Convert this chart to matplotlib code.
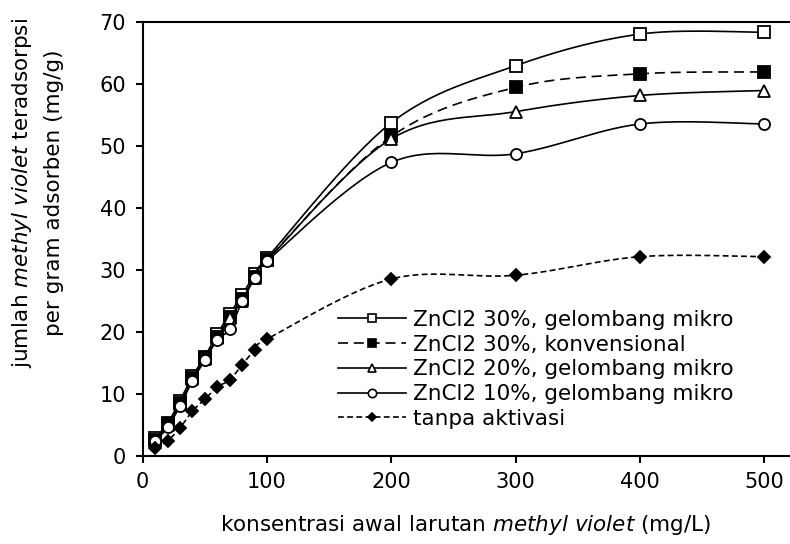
import numpy as np
import matplotlib.pyplot as plt

plt.rcParams['font.family'] = 'DejaVu Sans'
plt.rcParams['font.size'] = 15

# data
conc = [10, 20, 30, 40, 50, 60, 70, 80, 90, 100, 200, 300, 400, 500]
zn30_mw = [2.9, 5.2, 8.9, 12.8, 16.0, 19.6, 22.9, 25.9, 29.3, 31.9, 53.7, 62.9, 68.0, 68.3]
zn30_conv = [2.6, 5.1, 8.5, 12.5, 15.7, 19.1, 22.4, 25.2, 28.9, 31.6, 51.5, 59.4, 61.6, 61.9]
zn20_mw = [2.5, 4.9, 8.3, 12.3, 15.6, 19.0, 22.2, 25.0, 28.7, 31.5, 51.1, 55.5, 58.1, 58.9]
zn10_mw = [2.3, 4.6, 8.0, 12.1, 15.4, 18.7, 20.4, 24.9, 28.6, 31.4, 47.3, 48.7, 53.5, 53.5]
no_act = [1.2, 2.4, 4.5, 7.2, 9.1, 11.1, 12.2, 14.7, 17.0, 18.8, 28.5, 29.1, 32.1, 32.1]

labels = ['ZnCl2 30%, gelombang mikro', 'ZnCl2 30%, konvensional',
          'ZnCl2 20%, gelombang mikro', 'ZnCl2 10%, gelombang mikro',
          'tanpa aktivasi']


def smooth(x, y, sx=1.243, sy=6.2, n=30):
    # excel-like smoothed line (bezier through the points)
    P = np.column_stack([np.asarray(x, float) * sx, np.asarray(y, float) * sy])
    out = []
    for i in range(len(P) - 1):
        p0 = P[max(i - 1, 0)]
        p1, p2 = P[i], P[i + 1]
        p3 = P[min(i + 2, len(P) - 1)]
        c1 = p1 + (p2 - p0) / 6
        c2 = p2 - (p3 - p1) / 6
        t = np.linspace(0, 1, n)[:, None]
        seg = ((1 - t) ** 3 * p1 + 3 * (1 - t) ** 2 * t * c1
               + 3 * (1 - t) * t ** 2 * c2 + t ** 3 * p2)
        out.append(seg)
    out = np.vstack(out)
    return out[:, 0] / sx, out[:, 1] / sy


fig = plt.figure(figsize=(7.9, 5.44), dpi=100)
ax = fig.add_axes([142.7 / 790, 1 - 455.7 / 544, 647.3 / 790, 434 / 544])

styles = [
    dict(ls='-', lw=1.2, marker='s', mfc='white', ms=8),
    dict(ls=(0, (6, 3.5)), lw=1.2, marker='s', mfc='black', ms=8),
    dict(ls='-', lw=1.2, marker='^', mfc='white', ms=8.5),
    dict(ls='-', lw=1.2, marker='o', mfc='white', ms=8),
    dict(ls=(0, (3.5, 2)), lw=1.2, marker='D', mfc='black', ms=6),
]
series = [zn30_mw, zn30_conv, zn20_mw, zn10_mw, no_act]

handles = []
for ys, st, lab in zip(series, styles, labels):
    xs_s, ys_s = smooth(conc, ys)
    ax.plot(xs_s, ys_s, color='black', ls=st['ls'], lw=st['lw'])
    ax.plot(conc, ys, ls='none', marker=st['marker'], mfc=st['mfc'],
            mec='black', mew=1.3, ms=st['ms'])
    h, = ax.plot([], [], color='black', ls=st['ls'], lw=st['lw'],
                 marker=st['marker'], mfc=st['mfc'], mec='black', mew=1.2,
                 ms=st['ms'] * 0.75)
    handles.append(h)

ax.set_xlim(0, 520.8)
ax.set_ylim(0, 70)
ax.set_xticks([0, 100, 200, 300, 400, 500])
ax.set_yticks(range(0, 71, 10))
ax.spines['right'].set_visible(False)
for s in ['left', 'bottom', 'top']:
    ax.spines[s].set_linewidth(1.5)
ax.tick_params(direction='out', length=5, width=1.5, labelsize=15, pad=7)

leg = fig.legend(handles, labels, loc='upper left',
                 bbox_to_anchor=(337.7 / 790, 1 - 310 / 544),
                 frameon=False, fontsize=15.5, handlelength=3.15,
                 handletextpad=0.33, labelspacing=0.22,
                 borderpad=0, borderaxespad=0)

fig.text(466 / 790, 1 - 525 / 544,
         r'konsentrasi awal larutan $\it{methyl\ violet}$ (mg/L)',
         ha='center', va='center', fontsize=15.5)
fig.text(22 / 790, 1 - 193 / 544,
         r'jumlah $\it{methyl\ violet}$ teradsorpsi',
         ha='center', va='center', rotation=90, fontsize=15.5)
fig.text(54 / 790, 1 - 193 / 544, 'per gram adsorben (mg/g)',
         ha='center', va='center', rotation=90, fontsize=15.5)

fig.savefig('out.png', dpi=100)
